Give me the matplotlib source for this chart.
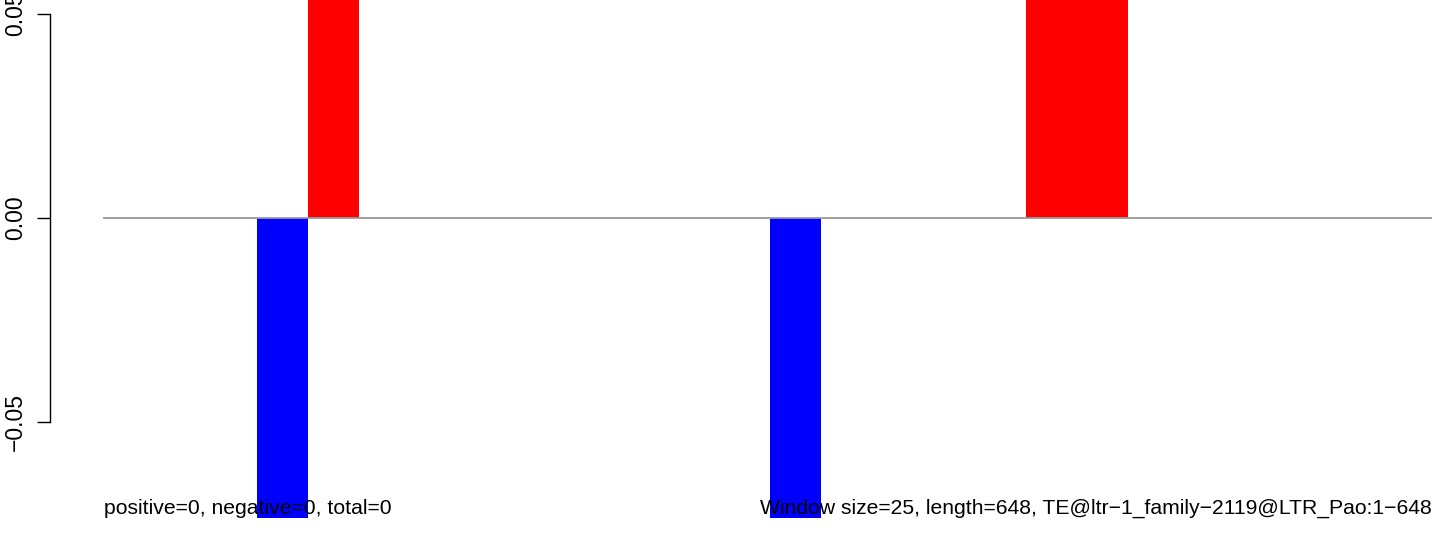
import matplotlib
matplotlib.use("Agg")
import matplotlib.pyplot as plt

plt.rcParams['font.family'] = ['Liberation Sans', 'DejaVu Sans']

# window data (bases) -- values beyond the visible range are clipped like in the original
seq_length = 648
window_size = 25
window_starts = [75, 100, 325, 450, 475]
window_values = [-0.075, 0.075, -0.075, 0.075, 0.075]
y_ticks = [-0.05, 0.0, 0.05]
y_limits = (-0.0735, 0.0534)

left_note = "positive=0, negative=0, total=0"
right_note = "Window size=25, length=648, TE@ltr\u22121_family\u22122119@LTR_Pao:1\u2212648"

W, H = 1444, 539
fig = plt.figure(figsize=(W / 100, H / 100), dpi=100)
ax = fig.add_axes([103 / W, 21 / H, 1329 / W, 518 / H])

colors = ['red' if v > 0 else 'blue' for v in window_values]
ax.bar(window_starts, window_values, width=window_size, align='edge',
       color=colors, linewidth=0, zorder=2)
ax.axhline(0, color='#999999', linewidth=1.3, zorder=3)

ax.set_xlim(0, seq_length)
ax.set_ylim(*y_limits)

for s in ['top', 'right', 'bottom']:
    ax.spines[s].set_visible(False)
ax.spines['left'].set_position(('outward', 38))
ax.spines['left'].set_bounds(y_ticks[0], y_ticks[-1])
ax.spines['left'].set_linewidth(1.0)
ax.set_xticks([])
ax.set_yticks(y_ticks)
ax.set_yticklabels([f"{t:.2f}".replace('-', '\u2212') for t in y_ticks],
                   rotation=90, va='center', fontsize=16.5)
ax.tick_params(axis='y', length=9.4, width=1.0, pad=7.5)

fig.text(104 / W, 1 - 508 / H, left_note, ha='left', va='center', fontsize=15.2)
fig.text(1432 / W, 1 - 508 / H, right_note, ha='right', va='center', fontsize=15.2)

fig.savefig('out.png', dpi=100)
